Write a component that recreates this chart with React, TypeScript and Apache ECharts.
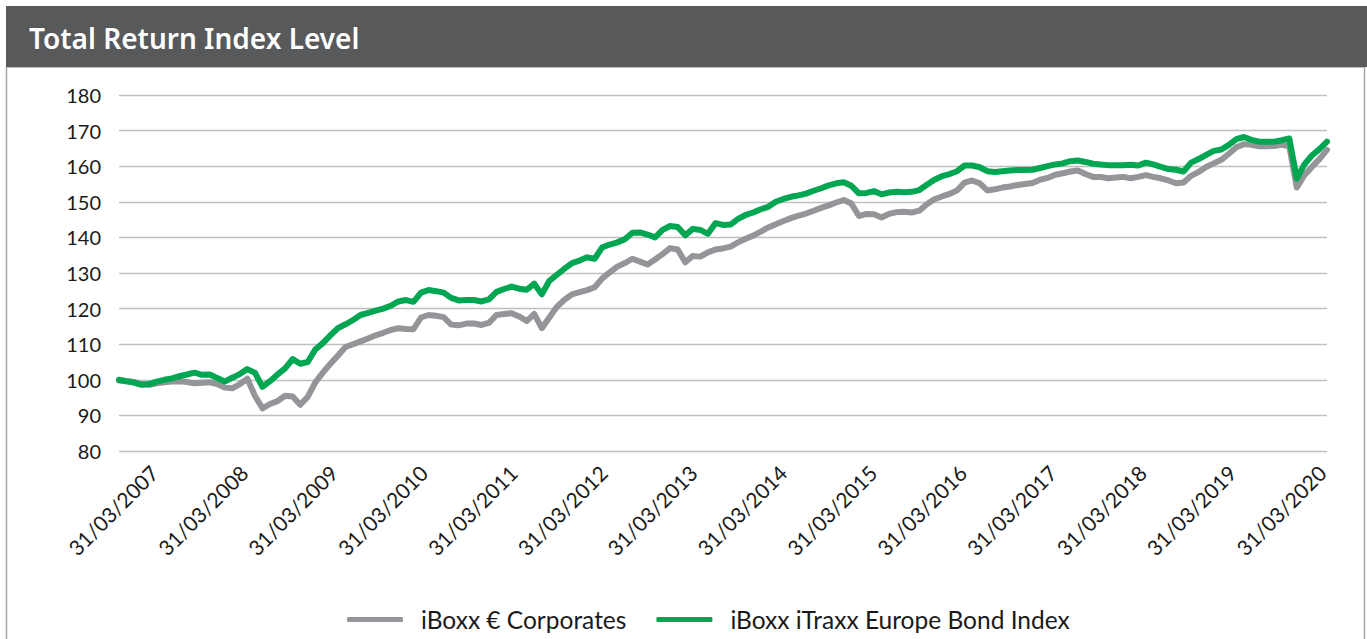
import React, { useEffect, useRef } from "react";
import * as echarts from "echarts";

const title = "Total Return Index Level";
const seriesNames = ["iBoxx € Corporates", "iBoxx iTraxx Europe Bond Index"];
const tickLabels = [
  "31/03/2007", "31/03/2008", "31/03/2009", "31/03/2010", "31/03/2011",
  "31/03/2012", "31/03/2013", "31/03/2014", "31/03/2015", "31/03/2016",
  "31/03/2017", "31/03/2018", "31/03/2019", "31/03/2020",
];
const yTicks = [80, 90, 100, 110, 120, 130, 140, 150, 160, 170, 180];

// month-end categories, March 2007 .. July 2020
const startYear = 2007;
const startMonth = 2; // March (0-based)
const monthCount = 161;
const categories: string[] = [];
for (let k = 0; k < monthCount; k++) {
  const m = startMonth + k;
  const y = startYear + Math.floor(m / 12);
  const mm = m % 12;
  const last = new Date(y, mm + 1, 0).getDate();
  categories.push(`${String(last).padStart(2, "0")}/${String(mm + 1).padStart(2, "0")}/${y}`);
}

const corporates = [
  99.8, 99.6, 99.4, 98.8, 98.6, 99, 99.3, 99.5, 99.6, 99.4, 99, 99.2,
  99.3, 98.8, 97.8, 97.6, 98.8, 100.3, 95.5, 92, 93.2, 94, 95.5, 95.3,
  93, 95.2, 99.3, 102, 104.5, 106.8, 109.2, 110, 110.8, 111.6, 112.5, 113.2,
  114, 114.5, 114.3, 114.2, 117.5, 118.2, 118, 117.6, 115.5, 115.3, 115.8, 115.8,
  115.4, 116, 118.2, 118.5, 118.7, 117.8, 116.5, 118.5, 114.5, 117.5, 120.5, 122.5,
  124, 124.6, 125.2, 126, 128.5, 130.2, 131.8, 132.8, 134, 133.2, 132.4, 133.8,
  135.3, 137, 136.6, 133, 134.8, 134.6, 135.8, 136.6, 136.9, 137.4, 138.6, 139.6,
  140.5, 141.6, 142.8, 143.7, 144.6, 145.4, 146.1, 146.7, 147.5, 148.3, 149, 149.8,
  150.5, 149.5, 146, 146.6, 146.5, 145.6, 146.6, 147.1, 147.2, 147, 147.5, 149.3,
  150.7, 151.5, 152.2, 153.2, 155.4, 156, 155.2, 153.2, 153.5, 154, 154.3, 154.7,
  155, 155.3, 156.2, 156.7, 157.6, 158, 158.5, 158.8, 157.8, 157, 157, 156.6,
  156.8, 157, 156.6, 157, 157.5, 157, 156.6, 156, 155.2, 155.4, 157.3, 158.4,
  159.8, 160.8, 161.8, 163.5, 165.3, 166.2, 166, 165.6, 165.6, 165.7, 166, 165.6,
  154, 157.5, 159.8, 162, 164.6,
];

const itraxx = [
  100, 99.6, 99.2, 98.6, 98.8, 99.5, 100, 100.4, 101, 101.5, 102, 101.4,
  101.5, 100.5, 99.5, 100.6, 101.6, 103, 102, 98, 99.6, 101.5, 103.2, 105.8,
  104.5, 105, 108.5, 110.3, 112.5, 114.5, 115.6, 116.8, 118.2, 118.8, 119.4, 120,
  120.8, 122, 122.4, 121.9, 124.5, 125.2, 124.9, 124.5, 123, 122.3, 122.4, 122.4,
  122, 122.6, 124.7, 125.5, 126.2, 125.6, 125.3, 127, 124, 127.8, 129.5, 131.2,
  132.8, 133.5, 134.4, 134, 137.2, 138, 138.6, 139.5, 141.3, 141.4, 140.8, 140,
  142.1, 143.2, 142.9, 140.6, 142.4, 142.1, 141, 144, 143.5, 143.6, 145.2, 146.3,
  147, 147.9, 148.6, 150, 150.8, 151.4, 151.8, 152.3, 153.1, 153.8, 154.6, 155.2,
  155.5, 154.5, 152.4, 152.5, 153, 152.1, 152.6, 152.8, 152.7, 152.8, 153.3, 154.8,
  156.2, 157.2, 157.8, 158.6, 160.2, 160.2, 159.7, 158.6, 158.4, 158.6, 158.8, 158.9,
  158.9, 159, 159.5, 160, 160.5, 160.8, 161.4, 161.6, 161.2, 160.7, 160.5, 160.3,
  160.3, 160.3, 160.4, 160.2, 161, 160.5, 159.8, 159.2, 159, 158.5, 161, 162,
  163.2, 164.3, 164.7, 166, 167.6, 168.2, 167.4, 166.9, 166.9, 166.9, 167.3, 167.8,
  156.5, 160.5, 163, 164.8, 166.9,
];

const FONT = "Lato, 'Noto Sans', sans-serif";
const TITLE_FONT = "'Noto Sans', Lato, sans-serif";

export default function App() {
  const ref = useRef<HTMLDivElement>(null);
  useEffect(() => {
    if (!ref.current) return;
    const chart = echarts.init(ref.current, undefined, { renderer: "svg" });
    chart.setOption({
      animation: false,
      backgroundColor: "#ffffff",
      textStyle: { fontFamily: FONT },
      graphic: [
        {
          type: "rect",
          shape: { x: 6.5, y: 67, width: 1358, height: 600 },
          style: { fill: "none", stroke: "#a6a6a6", lineWidth: 1.5 },
          silent: true,
        },
        {
          type: "rect",
          shape: { x: 6, y: 6, width: 1361, height: 61 },
          style: { fill: "#58595b" },
          silent: true,
        },
        {
          type: "text",
          x: 29,
          y: 38,
          style: {
            text: title,
            fill: "#ffffff",
            font: `600 28px ${TITLE_FONT}`,
            textVerticalAlign: "middle",
          },
          silent: true,
        },
      ],
      legend: {
        left: 342,
        top: 602,
        icon: "roundRect",
        itemWidth: 56,
        itemHeight: 5,
        itemGap: 30,
        data: seriesNames,
        textStyle: {
          fontFamily: FONT,
          fontSize: 24.5,
          color: "#1a1a1a",
          padding: [0, 0, 0, 13],
        },
      },
      grid: [
        { left: 119, right: 40, top: 95, bottom: 188, outerBoundsMode: "none" },
        { left: 154, width: 1198, top: 400, bottom: 178, outerBoundsMode: "none" },
      ],
      xAxis: [
        {
          type: "category",
          gridIndex: 0,
          data: categories,
          boundaryGap: false,
          axisLine: { show: false },
          axisTick: { show: false },
          axisLabel: { show: false },
          splitLine: { show: false },
        },
        {
          type: "category",
          gridIndex: 1,
          data: categories,
          boundaryGap: false,
          axisLine: { show: false },
          axisTick: { show: false },
          splitLine: { show: false },
          axisLabel: {
            show: true,
            rotate: 45,
            margin: 8,
            fontSize: 21,
            fontFamily: FONT,
            color: "#1a1a1a",
            interval: (_i: number, v: string) => tickLabels.includes(v),
          },
        },
      ],
      yAxis: [
        {
          type: "value",
          gridIndex: 0,
          min: yTicks[0],
          max: yTicks[yTicks.length - 1],
          interval: 10,
          axisLine: { show: false },
          axisTick: { show: false },
          axisLabel: { fontSize: 20, fontFamily: FONT, color: "#1a1a1a", margin: 18 },
          splitLine: { lineStyle: { color: "#bfbfbf", width: 1.3 } },
        },
        {
          type: "value",
          gridIndex: 1,
          show: false,
          min: 0,
          max: 1,
        },
      ],
      series: [
        {
          name: seriesNames[0],
          type: "line",
          xAxisIndex: 0,
          yAxisIndex: 0,
          data: corporates,
          showSymbol: false,
          symbol: "none",
          color: "#939598",
          lineStyle: { color: "#939598", width: 6, join: "round", cap: "round" },
          z: 2,
        },
        {
          name: seriesNames[1],
          type: "line",
          xAxisIndex: 0,
          yAxisIndex: 0,
          data: itraxx,
          showSymbol: false,
          symbol: "none",
          color: "#00a651",
          lineStyle: { color: "#00a651", width: 6, join: "round", cap: "round" },
          z: 3,
        },
      ],
    });
    return () => chart.dispose();
  }, []);
  return (
    <div
      ref={ref}
      style={{ position: "absolute", left: 0, top: 0, width: 1367, height: 639 }}
    />
  );
}
